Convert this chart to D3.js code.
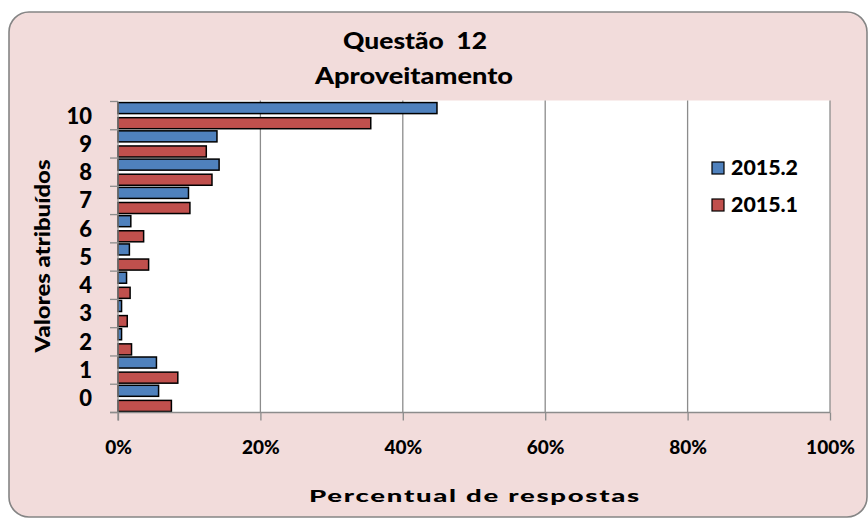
<!DOCTYPE html>
<html>
<head>
<meta charset="utf-8">
<script src="https://cdn.jsdelivr.net/npm/d3@7"></script>
<style>
  html, body { margin: 0; padding: 0; background: #ffffff; }
  svg { display: block; }
  text { font-family: Lato, "Open Sans", sans-serif; font-weight: 900; fill: #000; }
</style>
</head>
<body>
<svg id="chart" width="868" height="518"></svg>
<script>
const categories = ["0", "1", "2", "3", "4", "5", "6", "7", "8", "9", "10"];
const series2015_2 = [5.7, 5.4, 0.5, 0.5, 1.2, 1.6, 1.8, 9.9, 14.2, 13.9, 44.8];
const series2015_1 = [7.5, 8.4, 1.9, 1.3, 1.7, 4.3, 3.6, 10.1, 13.2, 12.4, 35.5];
const seriesNames = ["2015.2", "2015.1"];
const seriesColors = ["#4f81bd", "#c0504d"];
const xTicks = [0, 20, 40, 60, 80, 100];
const titleLines = ["Questão  12", "Aproveitamento"];
const yTitle = "Valores atribuídos";
const xTitle = "Percentual de respostas";

const svg = d3.select("#chart");

// outer chart area
svg.append("rect")
  .attr("x", 9).attr("y", 12).attr("width", 858).attr("height", 505)
  .attr("rx", 20).attr("ry", 20)
  .attr("fill", "#f2dcdb").attr("stroke", "#858585").attr("stroke-width", 1.6);

const plot = { left: 118, right: 830, top: 101.5, bottom: 412.5 };

// plot area
svg.append("rect")
  .attr("x", plot.left).attr("y", plot.top - 1)
  .attr("width", plot.right - plot.left).attr("height", plot.bottom - plot.top + 1)
  .attr("fill", "#ffffff");

const x = d3.scaleLinear().domain([0, 100]).range([plot.left, plot.right]);
const y = d3.scaleBand().domain(categories.slice().reverse()).range([plot.top, plot.bottom]).padding(0);

// vertical gridlines
svg.append("g").selectAll("line").data(xTicks.slice(1)).join("line")
  .attr("x1", d => x(d)).attr("x2", d => x(d))
  .attr("y1", plot.top - 1).attr("y2", plot.bottom)
  .attr("stroke", "#8c8c8c").attr("stroke-width", 1.3);

// bars
const bw = y.bandwidth();
const sub = d3.scaleBand().domain([0, 1]).range([0, bw]).paddingInner(0.27).paddingOuter(0.07);
const allSeries = [series2015_2, series2015_1];
allSeries.forEach((vals, si) => {
  svg.append("g").selectAll("rect").data(categories).join("rect")
    .attr("x", x(0))
    .attr("y", (c) => y(c) + sub(si))
    .attr("width", (c, i) => x(vals[i]) - x(0))
    .attr("height", sub.bandwidth())
    .attr("fill", seriesColors[si])
    .attr("stroke", "#000").attr("stroke-width", 1.5);
});

// x axis
const xAxis = d3.axisBottom(x).tickValues(xTicks).tickFormat(d => d + "%").tickSize(8).tickPadding(20);
const gx = svg.append("g").attr("transform", `translate(0,${plot.bottom})`).call(xAxis);
gx.select(".domain").attr("stroke", "#8c8c8c").attr("stroke-width", 1.3).attr("d", `M${plot.left - 8},0H${plot.right}`);
gx.selectAll(".tick line").attr("stroke", "#8c8c8c").attr("stroke-width", 1.3);
gx.selectAll(".tick text").attr("font-size", 19).attr("font-family", "Lato, sans-serif").attr("font-weight", 900).attr("fill", "#000");

// y axis (ticks at category boundaries)
const boundaries = d3.range(categories.length + 1).map(i => plot.top + i * bw);
svg.append("line").attr("x1", plot.left).attr("x2", plot.left).attr("y1", plot.top).attr("y2", plot.bottom + 8)
  .attr("stroke", "#8c8c8c").attr("stroke-width", 1.3);
svg.append("g").selectAll("line").data(boundaries).join("line")
  .attr("x1", plot.left - 8).attr("x2", plot.left)
  .attr("y1", d => d).attr("y2", d => d)
  .attr("stroke", "#8c8c8c").attr("stroke-width", 1.3);
svg.append("g").selectAll("text").data(categories).join("text")
  .attr("x", 92).attr("y", c => y(c) + bw / 2)
  .attr("dy", "0.36em").attr("text-anchor", "end")
  .attr("font-size", 22).text(c => c);

// titles
svg.append("text").attr("x", 415).attr("y", 49).attr("text-anchor", "middle").attr("font-size", 23)
  .attr("textLength", 144).attr("lengthAdjust", "spacingAndGlyphs")
  .style("white-space", "pre").text(titleLines[0]);
svg.append("text").attr("x", 414).attr("y", 84).attr("text-anchor", "middle").attr("font-size", 23)
  .attr("textLength", 198).attr("lengthAdjust", "spacingAndGlyphs").text(titleLines[1]);

svg.append("text").attr("transform", "translate(50,256) rotate(-90)").attr("text-anchor", "middle")
  .attr("font-size", 21).attr("textLength", 193).attr("lengthAdjust", "spacingAndGlyphs").text(yTitle);

svg.append("text").attr("x", 475).attr("y", 502).attr("text-anchor", "middle")
  .attr("font-family", "'DejaVu Sans', sans-serif").attr("font-weight", "bold")
  .attr("font-size", 16).attr("fill", "#2a2a2a").attr("letter-spacing", 1)
  .attr("textLength", 332).attr("lengthAdjust", "spacingAndGlyphs").text(xTitle);

// legend
const legend = svg.append("g");
seriesNames.forEach((name, i) => {
  const ly = 168 + i * 37;
  legend.append("rect").attr("x", 712).attr("y", ly - 6).attr("width", 12).attr("height", 12)
    .attr("fill", seriesColors[i]).attr("stroke", "#000").attr("stroke-width", 1.2);
  legend.append("text").attr("x", 731).attr("y", ly).attr("dy", "0.36em").attr("font-size", 20)
    .attr("textLength", 67).attr("lengthAdjust", "spacingAndGlyphs").text(name);
});
</script>
</body>
</html>
